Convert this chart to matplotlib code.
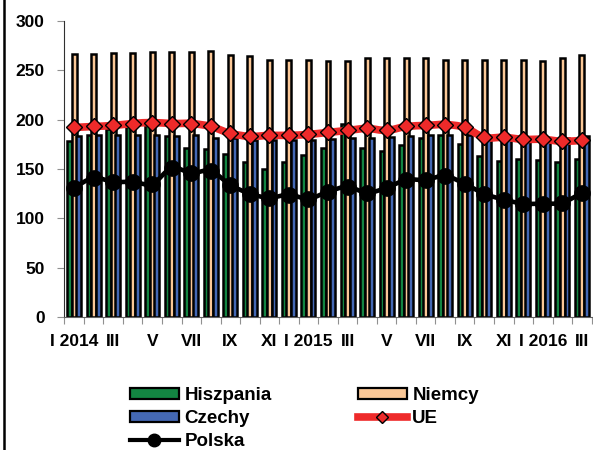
import numpy as np
import matplotlib
matplotlib.use("Agg")
import matplotlib.pyplot as plt
from matplotlib.path import Path
from matplotlib.patches import PathPatch
from matplotlib.lines import Line2D

plt.rcParams['font.family'] = ['Liberation Sans', 'DejaVu Sans']
plt.rcParams['font.weight'] = 'bold'

months = ["I 2014", "II", "III", "IV", "V", "VI", "VII", "VIII", "IX", "X", "XI", "XII",
          "I 2015", "II", "III", "IV", "V", "VI", "VII", "VIII", "IX", "X", "XI", "XII",
          "I 2016", "II", "III"]
tick_labels = ["I 2014", "III", "V", "VII", "IX", "XI", "I 2015", "III", "V", "VII", "IX", "XI", "I 2016", "III"]

hiszpania = [178, 184, 190, 193, 194, 183, 171, 170, 165, 157, 150, 157, 164, 171,
             196, 171, 168, 174, 181, 184, 175, 163, 158, 160, 159, 157, 160]
niemcy = [266, 266, 267, 267, 268, 268, 268, 269, 265, 264, 260, 260, 260, 259,
          259, 262, 262, 262, 262, 260, 260, 260, 260, 260, 259, 262, 265]
czechy = [183, 184, 184, 184, 184, 183, 184, 181, 181, 179, 179, 179, 179, 180,
          181, 181, 182, 183, 184, 184, 184, 181, 181, 182, 181, 181, 183]
ue = [192, 193, 194, 196, 197, 196, 196, 193, 186, 183, 184, 184, 185, 187,
      189, 191, 189, 193, 194, 195, 192, 182, 182, 180, 180, 178, 179]
polska = [131, 141, 137, 137, 135, 151, 146, 148, 134, 125, 121, 124, 120, 127,
          132, 126, 131, 139, 139, 143, 135, 125, 119, 115, 115, 116, 126]

c_green = '#138542'
c_beige = '#FBC897'
c_blue = '#4468B4'
c_red = '#EE2A2A'

fig = plt.figure(figsize=(5.93, 4.5), dpi=100)
ax = fig.add_axes([64.3 / 593, 1 - 317.3 / 450, 527.4 / 593, 296.6 / 450])

x = np.arange(len(months))
w = 0.25
ax.bar(x - 0.235, hiszpania, w, color=c_green, edgecolor='black', linewidth=1.8, zorder=2, label='Hiszpania')
ax.bar(x, niemcy, w, color=c_beige, edgecolor='black', linewidth=1.8, zorder=2, label='Niemcy')
ax.bar(x + 0.235, czechy, w, color=c_blue, edgecolor='black', linewidth=1.8, zorder=2, label='Czechy')


def smooth_path(xs, ys):
    pts = np.column_stack([xs, ys]).astype(float)
    n = len(pts)
    verts = [pts[0]]
    codes = [Path.MOVETO]
    for i in range(n - 1):
        p0 = pts[i - 1] if i > 0 else pts[i]
        p1 = pts[i]
        p2 = pts[i + 1]
        p3 = pts[i + 2] if i + 2 < n else pts[i + 1]
        c1 = p1 + (p2 - p0) / 6.0
        c2 = p2 - (p3 - p1) / 6.0
        verts += [c1, c2, p2]
        codes += [Path.CURVE4] * 3
    return Path(verts, codes)


ax.add_patch(PathPatch(smooth_path(x, ue), fill=False, edgecolor=c_red, linewidth=5.5,
                       capstyle='round', joinstyle='round', zorder=3))
ax.plot(x, ue, linestyle='none', marker='D', markersize=8.5, markerfacecolor=c_red,
        markeredgecolor='black', markeredgewidth=1.0, zorder=4)
ax.add_patch(PathPatch(smooth_path(x, polska), fill=False, edgecolor='black', linewidth=3.3,
                       capstyle='round', joinstyle='round', zorder=5))
ax.plot(x, polska, linestyle='none', marker='o', markersize=11, markerfacecolor='black',
        markeredgecolor='black', zorder=6)

ax.set_xlim(-0.5, len(months) - 0.5)
ax.set_ylim(0, 300)
ax.set_yticks(np.arange(0, 301, 50))
ax.set_xticks(x[::2])
ax.set_xticklabels(tick_labels)
ax.set_xticks(np.arange(-0.5, len(months), 1.0), minor=True)
ax.tick_params(axis='x', which='major', length=0, pad=12, labelsize=12.5)
ax.tick_params(axis='x', which='minor', length=5, color='#909090', width=0.8, direction='out')
ax.tick_params(axis='y', length=5, color='#909090', width=0.8, pad=9, labelsize=12.5)
for lab in ax.get_xticklabels() + ax.get_yticklabels():
    lab.set_fontweight('bold')

for s in ['top', 'right']:
    ax.spines[s].set_visible(False)
ax.spines['left'].set_color('#303030')
ax.spines['left'].set_linewidth(0.8)
ax.spines['bottom'].set_color('#606060')
ax.spines['bottom'].set_linewidth(0.8)

# chart area border (left edge)
fig.add_artist(Line2D([3.8 / 593, 3.8 / 593], [0, 1], transform=fig.transFigure,
                      color='black', linewidth=1.8))

handles = [
    plt.Rectangle((0, 0), 1, 1, facecolor=c_green, edgecolor='black', linewidth=1.6),
    plt.Rectangle((0, 0), 1, 1, facecolor=c_blue, edgecolor='black', linewidth=1.6),
    Line2D([], [], color='black', linewidth=3.0, marker='o', markersize=9,
           markerfacecolor='black', markeredgecolor='black'),
    plt.Rectangle((0, 0), 1, 1, facecolor=c_beige, edgecolor='black', linewidth=1.6),
    Line2D([], [], color=c_red, linewidth=5.5, marker='D', markersize=6,
           markerfacecolor=c_red, markeredgecolor='black', markeredgewidth=1.0),
]
labels = ['Hiszpania', 'Czechy', 'Polska', 'Niemcy', 'UE']
leg = fig.legend(handles, labels, ncol=2, loc='upper left',
                 bbox_to_anchor=(130 / 593, 1 - 387 / 450), frameon=False,
                 prop={'weight': 'bold', 'size': 13.5}, handlelength=2.6, handleheight=0.5,
                 handletextpad=0.3, columnspacing=4.6, labelspacing=0.33, borderpad=0,
                 borderaxespad=0)

fig.savefig('out.png', dpi=100)
